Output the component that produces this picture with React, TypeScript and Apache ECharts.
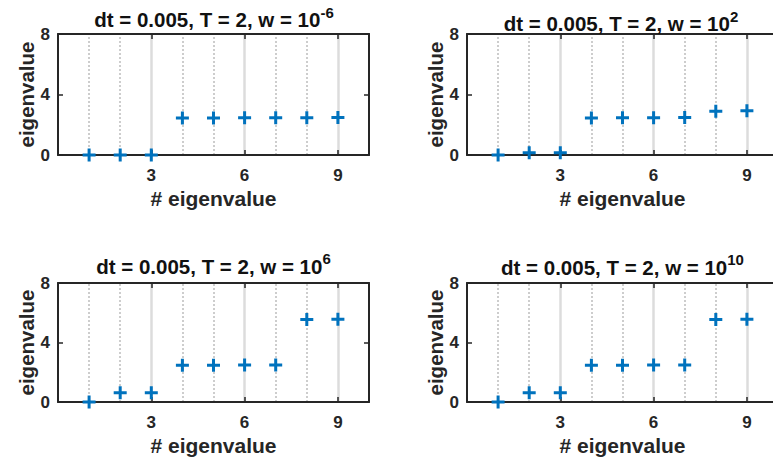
import React, { useEffect, useRef } from 'react';
import * as echarts from 'echarts';

// ---- data ----
const eigIndex = [1, 2, 3, 4, 5, 6, 7, 8, 9];
const eigW1 = [0, 0, 0, 2.45, 2.45, 2.46, 2.47, 2.47, 2.48];
const eigW2 = [0, 0.15, 0.15, 2.45, 2.46, 2.47, 2.48, 2.9, 2.92];
const eigW3 = [0, 0.62, 0.62, 2.47, 2.47, 2.48, 2.48, 5.55, 5.56];
const eigW4 = [0, 0.62, 0.62, 2.47, 2.47, 2.48, 2.48, 5.55, 5.56];
const wExponents = ['-6', '2', '6', '10'];
const titleBase = 'dt = 0.005, T = 2, w = 10';
const xTickLabels = [3, 6, 9];
const majorGrid = [3, 6, 9];
const minorGrid = [1, 2, 4, 5, 7, 8];
const xName = '# eigenvalue';
const yName = 'eigenvalue';

const panelsData = [eigW1, eigW2, eigW3, eigW4];

// ---- layout / style ----
const FONT = '"Liberation Sans", Arial, Helvetica, sans-serif';
const AX = '#262626';
const BLUE = '#0072BD';
const grids = [
  { left: 58, top: 34, width: 311, height: 121 },
  { left: 467, top: 34, width: 311, height: 121 },
  { left: 58, top: 283, width: 311, height: 119 },
  { left: 467, top: 283, width: 311, height: 119 },
];
const titlePos = [
  { x: 214, y: 19.7 },
  { x: 621, y: 23.7 },
  { x: 213.5, y: 266.3 },
  { x: 622.5, y: 267 },
];
const PLUS = 'path://M5,0H8V5H13V8H8V13H5V8H0V5H5Z';

function buildOption() {
  const xAxes: any[] = [];
  const yAxes: any[] = [];
  const series: any[] = [];
  const graphics: any[] = [];
  grids.forEach((g, gi) => {
    const tick = { show: true, inside: true, length: 5, lineStyle: { color: AX, width: 1.5 } };
    const line = { show: true, onZero: false, lineStyle: { color: AX, width: 2 } };
    xAxes.push({
      type: 'value', gridIndex: gi, position: 'bottom', min: 0, max: 10, interval: 3, z: 8,
      axisLine: line, axisTick: tick, splitLine: { show: false },
      axisLabel: {
        show: true, margin: 12, color: AX, fontSize: 17, fontWeight: 'bold', fontFamily: FONT,
        formatter: (v: number) => (xTickLabels.includes(v) ? String(v) : ''),
      },
      name: xName, nameLocation: 'middle', nameGap: 33,
      nameTextStyle: { color: AX, fontSize: 21, fontWeight: 'bold', fontFamily: FONT },
    });
    xAxes.push({
      type: 'value', gridIndex: gi, position: 'top', min: 0, max: 10, interval: 3, z: 8,
      axisLine: line, axisTick: tick, splitLine: { show: false }, axisLabel: { show: false },
    });
    yAxes.push({
      type: 'value', gridIndex: gi, position: 'left', min: 0, max: 8, interval: 4, z: 8,
      axisLine: line, axisTick: tick, splitLine: { show: false },
      axisLabel: { show: true, margin: 8, color: AX, fontSize: 17, fontWeight: 'bold', fontFamily: FONT },
      name: yName, nameLocation: 'middle', nameGap: 21, nameRotate: 90,
      nameTextStyle: { color: AX, fontSize: 20.5, fontWeight: 'bold', fontFamily: FONT },
    });
    yAxes.push({
      type: 'value', gridIndex: gi, position: 'right', min: 0, max: 8, interval: 4, z: 8,
      axisLine: line, axisTick: tick, splitLine: { show: false }, axisLabel: { show: false },
    });
    series.push({
      type: 'scatter', xAxisIndex: gi * 2, yAxisIndex: gi * 2, data: [], z: 1, silent: true,
      markLine: {
        silent: true, symbol: ['none', 'none'], label: { show: false }, z: 1, animation: false,
        emphasis: { disabled: true },
        data: [
          ...minorGrid.map((x) => ({ xAxis: x, lineStyle: { color: '#cdcdcd', width: 2, type: [2, 2], opacity: 1 } })),
          ...majorGrid.map((x) => ({ xAxis: x, lineStyle: { color: '#dcdcdc', width: 2.5, type: 'solid', opacity: 1 } })),
        ],
      },
    });
    series.push({
      type: 'scatter', xAxisIndex: gi * 2, yAxisIndex: gi * 2, z: 10,
      symbol: PLUS, symbolSize: 13, itemStyle: { color: BLUE, opacity: 1 },
      data: eigIndex.map((x, i) => [x, panelsData[gi][i]]),
    });
    graphics.push({
      type: 'text', x: titlePos[gi].x, y: titlePos[gi].y, z: 20,
      style: {
        text: `{m|${titleBase}}{s|${wExponents[gi]}}`,
        align: 'center', verticalAlign: 'middle',
        fill: '#111', fontFamily: FONT, fontWeight: 'bold', fontSize: 20,
        rich: {
          m: { fontSize: 20.5, fontWeight: 'bold', fontFamily: FONT, fill: '#111', lineHeight: 30 },
          s: { fontSize: 15, fontWeight: 'bold', fontFamily: FONT, fill: '#111', verticalAlign: 'top' },
        },
      },
    });
  });
  return {
    animation: false,
    backgroundColor: '#ffffff',
    grid: grids.map((g) => ({ ...g, containLabel: false, outerBoundsMode: 'none' })),
    xAxis: xAxes,
    yAxis: yAxes,
    series,
    graphic: graphics,
  };
}

export default function App() {
  const ref = useRef<HTMLDivElement>(null);
  useEffect(() => {
    if (!ref.current) return;
    const chart = echarts.init(ref.current, undefined, { renderer: 'svg' });
    chart.setOption(buildOption() as any);
    return () => chart.dispose();
  }, []);
  return (
    <div
      ref={ref}
      style={{ position: 'fixed', left: 0, top: 0, width: 773, height: 463, background: '#fff' }}
    />
  );
}
